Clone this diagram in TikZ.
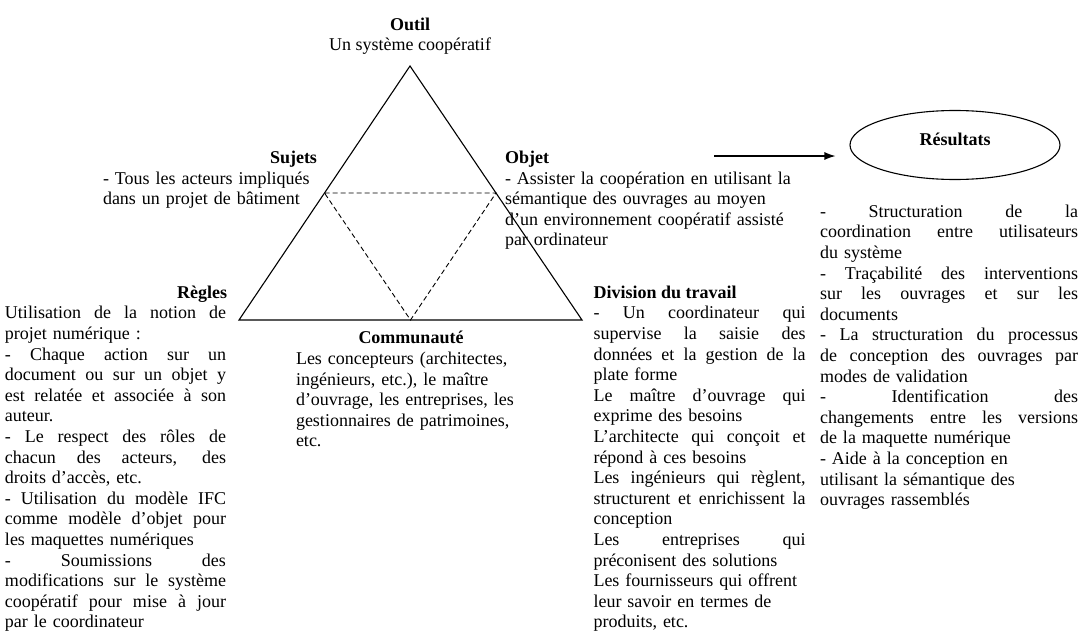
\documentclass[tikz,border=0pt]{standalone}
\usepackage{fontspec}
\setmainfont{Liberation Serif}
\usetikzlibrary{arrows.meta,shapes.geometric}
\tolerance=10000 \hbadness=10000 \vbadness=10000 \hyphenpenalty=10000 \exhyphenpenalty=10000
% one justified line: all spaces stretch equally to fill the line
\newcommand\jl[1]{\hbox to\hsize{\spaceskip=4.5pt plus 1fil\xspaceskip=4.5pt plus 1fil\relax #1}\par}
\tikzset{
  txt/.style={anchor=north west, inner sep=0pt, outer sep=0pt,
    font={\fontsize{18}{20.6}\selectfont\parindent=0pt\parskip=0pt}},
  ttl/.style={inner sep=0pt, outer sep=0pt, font={\fontsize{18}{20.6}\selectfont\bfseries}},
  plain/.style={inner sep=0pt, outer sep=0pt, font={\fontsize{18}{20.6}\selectfont}},
  ln/.style={line width=1.1pt},
  dsh/.style={line width=0.9pt, dash pattern=on 5pt off 3pt},
}
\begin{document}
\begin{tikzpicture}[x=1pt,y=-1pt]
\useasboundingbox (0,0) rectangle (1081,637);
% triangle
\coordinate (A) at (410,66);
\coordinate (B) at (239,320);
\coordinate (C) at (582,320);
\coordinate (mAB) at (324.5,193);
\coordinate (mAC) at (496,193);
\coordinate (mBC) at (410.5,320);
\draw[ln, line join=miter] (A) -- (B) -- (C) -- cycle;
\draw[dsh] (mAB) -- (mAC) -- (mBC) -- cycle;

% Outil
\node[ttl, anchor=base] (outilt) at (410,30) {Outil};
\node[plain, anchor=base] (outil) at (410,50) {Un système coopératif};

% Sujets
\node[ttl, anchor=base east] (sujett) at (317,163) {Sujets};
\node[txt, text width=215pt] (sujet) at (103,169.6) {\strut - Tous les acteurs impliqués\newline
dans un projet de bâtiment};

% Objet
\node[ttl, anchor=base west] (objett) at (505,163) {Objet};
\node[txt, text width=330pt] (objet) at (505,169.6) {\strut - Assister la coopération en utilisant la\newline
sémantique des ouvrages au moyen\newline
d’un environnement coopératif assisté\newline
par ordinateur};

% Regles
\node[ttl, anchor=base east] (reglest) at (227,298) {Règles};
\node[txt, text width=221pt] (regles) at (5,304.4) {\jl{\strut Utilisation de la notion de}
projet numérique :\par
\jl{- Chaque action sur un}
\jl{document ou sur un objet y}
\jl{est relatée et associée à son}
auteur.\par
\jl{- Le respect des rôles de}
\jl{chacun des acteurs, des}
droits d’accès, etc.\par
\jl{- Utilisation du modèle IFC}
\jl{comme modèle d’objet pour}
les maquettes numériques\par
\jl{- Soumissions des}
\jl{modifications sur le système}
\jl{coopératif pour mise à jour}
par le coordinateur};

% Communaute
\node[ttl, anchor=base] (commt) at (411,343) {Communauté};
\node[txt, text width=300pt] (comm) at (296,350) {\strut Les concepteurs (architectes,\newline
ingénieurs, etc.), le maître\newline
d’ouvrage, les entreprises, les\newline
gestionnaires de patrimoines,\newline
etc.};

% Division du travail
\node[ttl, anchor=base west] (divt) at (593.5,298) {Division du travail};
\node[txt, text width=212pt] (div) at (593.5,304.4) {\jl{\strut - Un coordinateur qui}
\jl{supervise la saisie des}
\jl{données et la gestion de la}
plate forme\par
\jl{Le maître d’ouvrage qui}
exprime des besoins\par
\jl{L’architecte qui conçoit et}
répond à ces besoins\par
\jl{Les ingénieurs qui règlent,}
\jl{structurent et enrichissent la}
conception\par
\jl{Les entreprises qui}
préconisent des solutions\par
Les fournisseurs qui offrent\newline
leur savoir en termes de\newline
produits, etc.};

% Resultats
\node[draw, ln, ellipse, minimum width=210pt, minimum height=69pt, inner sep=0pt] (res) at (955,145) {};
\node[ttl, anchor=base] (rest) at (955,145) {Résultats};
\node[txt, text width=258pt] (resl) at (820,202.8) {\jl{\strut - Structuration de la}
\jl{coordination entre utilisateurs}
du système\par
\jl{- Traçabilité des interventions}
\jl{sur les ouvrages et sur les}
documents\par
\jl{- La structuration du processus}
\jl{de conception des ouvrages par}
modes de validation\par
\jl{- Identification des}
\jl{changements entre les versions}
de la maquette numérique\par
- Aide à la conception en\newline
utilisant la sémantique des\newline
ouvrages rassemblés};

% arrow
\coordinate (arrS) at (714,156);
\coordinate (arrE) at ([xshift=-14pt]res.west |- 0,156);
\draw[ln, -{Latex[length=11pt,width=8pt]}] (arrS) -- (arrE);
\end{tikzpicture}
\end{document}
